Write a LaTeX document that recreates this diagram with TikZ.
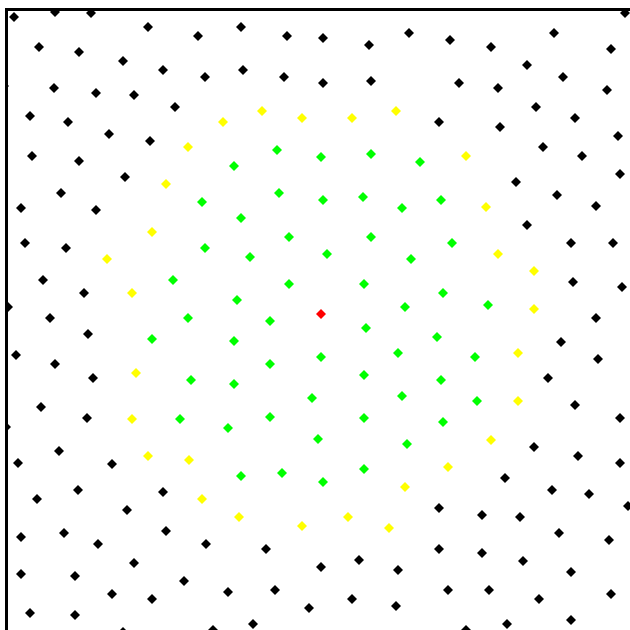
\documentclass[tikz,border=0pt]{standalone}
\usetikzlibrary{shapes.geometric}
\definecolor{ylw}{RGB}{255,255,0}
\definecolor{grn}{RGB}{0,255,0}
\definecolor{rd}{RGB}{255,0,0}
\tikzset{mk/.style={diamond, inner sep=0pt, minimum size=10pt, draw=none}}
\begin{document}
\begin{tikzpicture}[x=1pt,y=-1pt]
\useasboundingbox (0,0) rectangle (630,630);
\begin{scope}
\clip (6,9) rectangle (630,630);
\foreach \x/\y [count=\i] in {14/17, 55/12, 91/13, 148/27, 198/36, 39/47, 79/52, 123/61, 163/70, 205/77, 54/88, 96/93, 134/95, 175/107, 30/116, 68/122, 109/134, 150/141, 32/156, 79/161, 125/177, 61/193, 21/208, 96/210, 4/86,
241/27, 287/36, 323/38, 369/45, 409/33, 243/70, 284/77, 323/83, 371/81, 348/6,
450/40, 491/47, 554/33, 611/49, 625/13, 480/6, 520/6, 587/6, 527/65, 563/77, 459/83, 498/88, 607/90, 536/107, 575/118, 439/122, 500/127, 618/136, 543/147, 582/156, 516/182, 620/174, 557/195, 596/206,
25/243, 66/248, 43/280, 84/293, 8/307, 50/318, 88/334, 16/355, 55/364, 93/378, 41/407, 87/418,
527/225, 571/243, 613/243, 573/282, 622/287, 596/318, 561/342, 598/359, 548/378, 575/405, 620/418,
6/427, 59/451, 18/463, 112/464, 78/490, 37/499, 163/492, 127/510, 21/537, 64/533, 98/544, 166/531, 206/544, 134/563, 21/574, 75/576, 184/581, 112/594, 152/599, 30/613, 75/615, 123/632,
266/549, 321/567, 359/560, 398/570, 228/592, 275/590, 309/608, 352/599, 396/606, 253/624, 213/630,
534/447, 578/456, 620/463, 505/478, 552/490, 589/494, 628/506, 439/508, 482/515, 520/517, 559/533, 609/540, 439/549, 482/553, 523/561, 571/572, 448/590, 489/590, 539/599, 611/594, 466/630, 507/624, 571/620}
  \node[mk, fill=black] (k\i) at (\x,\y) {};
\foreach \x/\y [count=\i] in {188/147, 166/184, 262/111, 223/122, 302/118, 352/118, 396/111, 466/156, 486/207, 152/232, 107/259, 132/293, 136/373, 132/419, 498/254, 534/271, 534/309, 518/353, 518/401, 148/456, 189/460, 202/499, 405/487, 239/517, 302/526, 348/517, 389/528, 491/440, 448/467}
  \node[mk, fill=ylw] (y\i) at (\x,\y) {};
\foreach \x/\y [count=\i] in {202/202, 277/150, 234/166, 321/157, 371/154, 420/162, 279/193, 323/200, 363/197, 402/208, 441/200, 205/248, 173/280, 188/318, 152/339, 191/380, 180/419, 241/218, 289/237, 371/237, 250/257, 327/254, 411/259, 289/284, 364/284, 237/300, 405/307, 270/321, 366/328, 234/341, 321/357, 398/353, 270/364, 364/375, 234/384, 312/398, 402/396, 270/417, 364/418, 452/243, 443/293, 488/305, 437/337, 475/357, 441/380, 477/401, 443/422, 228/428, 318/439, 407/444, 241/476, 282/473, 323/482, 364/469}
  \node[mk, fill=grn] (g\i) at (\x,\y) {};
\node[mk, fill=rd] (r) at (321,314) {};
\end{scope}
\draw[line width=3pt] (6,630) -- (6,9) -- (630,9);
\end{tikzpicture}
\end{document}
